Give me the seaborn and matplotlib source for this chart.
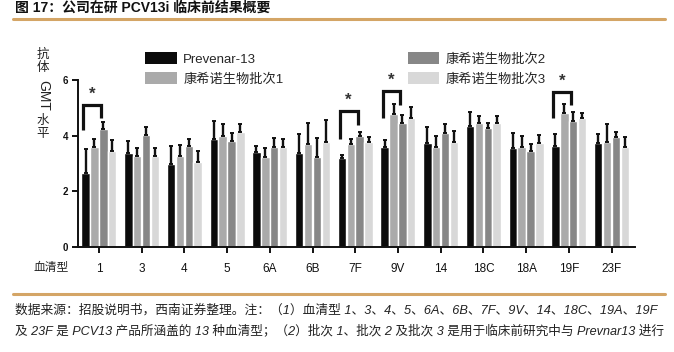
import numpy as np
import pandas as pd
import matplotlib
matplotlib.use("Agg")
import matplotlib.pyplot as plt
from matplotlib.patches import Patch
from matplotlib.lines import Line2D
import seaborn as sns

# ---------------- data ----------------
serotypes = ['1', '3', '4', '5', '6A', '6B', '7F', '9V', '14', '18C', '18A', '19F', '23F']
groups = ['Prevenar-13', '康希诺生物批次1', '康希诺生物批次2', '康希诺生物批次3']

prevenar = [2.66, 3.38, 2.97, 3.86, 3.42, 3.38, 3.18, 3.60, 3.74, 4.34, 3.54, 3.62, 3.74]
batch1 = [3.57, 3.26, 3.26, 3.99, 3.21, 3.69, 3.68, 4.77, 3.60, 4.44, 3.60, 4.80, 3.78]
batch2 = [4.22, 4.02, 3.62, 3.80, 3.60, 3.21, 4.00, 4.46, 4.08, 4.26, 3.45, 4.53, 3.96]
batch3 = [3.44, 3.26, 3.04, 4.11, 3.60, 3.75, 3.75, 4.64, 3.75, 4.44, 3.74, 4.62, 3.57]

prevenar_err = [0.84, 0.42, 0.65, 0.66, 0.20, 0.67, 0.12, 0.24, 0.55, 0.52, 0.54, 0.42, 0.31]
batch1_err = [0.30, 0.30, 0.40, 0.42, 0.35, 0.77, 0.19, 0.35, 0.39, 0.26, 0.38, 0.32, 0.62]
batch2_err = [0.25, 0.28, 0.25, 0.28, 0.30, 0.69, 0.11, 0.28, 0.32, 0.18, 0.23, 0.33, 0.18]
batch3_err = [0.40, 0.28, 0.40, 0.29, 0.27, 0.81, 0.18, 0.37, 0.42, 0.27, 0.28, 0.20, 0.39]

# significance brackets: serotype, top, left-leg bottom, right-leg bottom
sig_serotypes = ['1', '7F', '9V', '19F']
sig_top = [5.10, 4.89, 5.60, 5.58]
sig_left = [4.20, 3.89, 4.62, 4.62]
sig_right = [4.62, 4.37, 5.10, 5.10]

title = '图 17：公司在研 PCV13i 临床前结果概要'
note1 = '数据来源：招股说明书，西南证券整理。注：（1）血清型 1、3、4、5、6A、6B、7F、9V、14、18C、19A、19F'
note2 = '及 23F 是 PCV13 产品所涵盖的 13 种血清型；（2）批次 1、批次 2 及批次 3 是用于临床前研究中与 Prevnar13 进行'

# ---------------- styling ----------------
sns.set_theme(style="white")
plt.rcParams['font.family'] = ['Liberation Sans', 'Noto Sans CJK SC', 'DejaVu Sans']
colors = ['#0b0b0b', '#aaaaaa', '#878787', '#d8d8d8']
gold = '#d4a566'

values = [prevenar, batch1, batch2, batch3]
errs = [prevenar_err, batch1_err, batch2_err, batch3_err]
df = pd.DataFrame({
    'serotype': np.tile(serotypes, len(groups)),
    'group': np.repeat(groups, len(serotypes)),
    'value': np.concatenate(values),
})

W, H = 674, 352
fig = plt.figure(figsize=(W / 100, H / 100), dpi=100)
ax = fig.add_axes([78 / W, 1 - 246.7 / H, (635 - 78) / W, (246.7 - 40) / H])

sns.barplot(data=df, x='serotype', y='value', hue='group', order=serotypes,
            hue_order=groups, palette=colors, width=0.83, gap=0.06,
            errorbar=None, saturation=1, legend=False, ax=ax)

# error bars (upper only)
centers = []
for cont, e in zip(ax.containers, errs):
    xs = np.array([p.get_x() + p.get_width() / 2 for p in cont.patches])
    hs = np.array([p.get_height() for p in cont.patches])
    centers.append(xs)
    ax.errorbar(xs, hs, yerr=[np.zeros(len(e)), e], fmt='none', ecolor='#111111',
                elinewidth=1.7, capsize=1.6, capthick=1.4, zorder=3)

# significance brackets
for s, top, lb, rb in zip(sig_serotypes, sig_top, sig_left, sig_right):
    i = serotypes.index(s)
    xl = centers[0][i] - 0.05
    xr = centers[2][i] - 0.05
    ax.plot([xl, xl, xr, xr], [lb, top, top, rb], color='#111111', lw=2.3,
            solid_joinstyle='miter', solid_capstyle='butt', zorder=4)
    ax.text((xl + xr) / 2, top + 0.10, '*', ha='center', va='bottom',
            fontsize=12, fontweight='bold', color='#333333')

ax.set_ylim(0, (246.7 - 40) / 27.8)
ax.set_xlim(-0.49, 12.55)
ax.set_yticks([0, 2, 4, 6])
ax.set_yticklabels(['0', '2', '4', '6'], fontweight='bold', fontsize=7)
ax.set_xlabel('')
ax.set_ylabel('')
ax.tick_params(axis='x', length=4, width=1.4, direction='out', pad=8,
               labelsize=8.5, bottom=True, colors='#111111')
ax.tick_params(axis='y', length=4, width=1.4, direction='out', pad=3,
               left=True, colors='#111111')
for sp in ['top', 'right']:
    ax.spines[sp].set_visible(False)
for sp in ['left', 'bottom']:
    ax.spines[sp].set_linewidth(1.4)
    ax.spines[sp].set_color('#111111')
ax.spines['left'].set_bounds(0, 6)

# legend
handles = [Patch(facecolor=c, edgecolor='none') for c in colors]
leg = fig.legend(handles, groups, loc='upper left', ncol=2,
                 bbox_to_anchor=(145 / W, 1 - 52 / H), frameon=False,
                 fontsize=9.5, handlelength=2.4, handleheight=1.05,
                 handletextpad=0.5, labelspacing=0.5, columnspacing=9.4,
                 borderpad=0, borderaxespad=0)

# y label (stacked)
ylab_kw = dict(ha='center', va='center', color='#222222')
fig.text(43 / W, 1 - 55 / H, '抗', fontsize=9, **ylab_kw)
fig.text(43 / W, 1 - 68 / H, '体', fontsize=9, **ylab_kw)
fig.text(43 / W, 1 - 95.5 / H, 'GMT', fontsize=10, rotation=-90, **ylab_kw)
fig.text(43 / W, 1 - 121 / H, '水', fontsize=9, **ylab_kw)
fig.text(43 / W, 1 - 134 / H, '平', fontsize=9, **ylab_kw)

# x label
fig.text(51 / W, 1 - 268 / H, '血清型', fontsize=8.5, ha='center', va='center',
         color='#222222')

# title and rules
fig.text(15 / W, 1 - 8 / H, title, fontsize=10, fontweight='bold',
         ha='left', va='center', color='#111111')
fig.add_artist(Line2D([13 / W, 665 / W], [1 - 19 / H, 1 - 19 / H], color=gold, lw=2.2))
fig.add_artist(Line2D([13 / W, 665 / W], [1 - 294 / H, 1 - 294 / H], color=gold, lw=2.2))

# footnotes
fig.text(15 / W, 1 - 310 / H, note1, fontsize=9.2, style='italic', ha='left',
         va='center', color='#222222')
fig.text(15 / W, 1 - 331 / H, note2, fontsize=9.1, style='italic', ha='left',
         va='center', color='#222222')

fig.savefig('out.png', dpi=100)
